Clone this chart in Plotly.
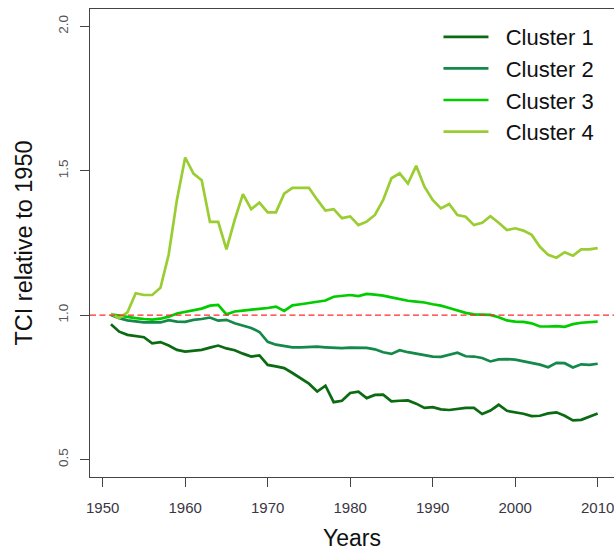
import plotly.graph_objects as go

years = list(range(1951, 2011))

cluster1 = [0.969, 0.943, 0.932, 0.928, 0.924, 0.903, 0.907, 0.895, 0.880, 0.874,
            0.878, 0.880, 0.888, 0.895, 0.885, 0.879, 0.867, 0.857, 0.861, 0.828,
            0.823, 0.817, 0.800, 0.780, 0.763, 0.736, 0.756, 0.699, 0.704, 0.731,
            0.735, 0.713, 0.724, 0.725, 0.702, 0.704, 0.705, 0.694, 0.679, 0.682,
            0.674, 0.672, 0.676, 0.679, 0.679, 0.658, 0.670, 0.690, 0.669, 0.665,
            0.659, 0.651, 0.652, 0.660, 0.664, 0.652, 0.636, 0.638, 0.650, 0.660]

cluster2 = [1.001, 0.990, 0.982, 0.978, 0.975, 0.975, 0.975, 0.983, 0.978, 0.977,
            0.984, 0.987, 0.992, 0.981, 0.984, 0.972, 0.964, 0.956, 0.942, 0.908,
            0.898, 0.893, 0.889, 0.889, 0.890, 0.891, 0.889, 0.887, 0.886, 0.888,
            0.888, 0.887, 0.882, 0.872, 0.866, 0.879, 0.872, 0.867, 0.861, 0.857,
            0.856, 0.862, 0.870, 0.858, 0.857, 0.852, 0.840, 0.847, 0.848, 0.846,
            0.840, 0.835, 0.829, 0.820, 0.835, 0.834, 0.819, 0.830, 0.828, 0.832]

cluster3 = [1.003, 0.998, 0.993, 0.990, 0.987, 0.985, 0.988, 0.995, 1.006, 1.012,
            1.018, 1.023, 1.033, 1.036, 1.003, 1.013, 1.016, 1.020, 1.022, 1.025,
            1.030, 1.015, 1.034, 1.038, 1.042, 1.047, 1.051, 1.064, 1.068, 1.070,
            1.066, 1.074, 1.071, 1.068, 1.062, 1.056, 1.050, 1.047, 1.044, 1.038,
            1.033, 1.025, 1.017, 1.008, 1.003, 1.003, 1.001, 0.993, 0.982, 0.978,
            0.977, 0.972, 0.961, 0.961, 0.962, 0.960, 0.969, 0.974, 0.977, 0.978]

cluster4 = [1.005, 0.990, 1.010, 1.076, 1.070, 1.070, 1.095, 1.210, 1.400, 1.546,
            1.490, 1.467, 1.323, 1.323, 1.228, 1.330, 1.419, 1.367, 1.390, 1.356,
            1.356, 1.421, 1.441, 1.441, 1.441, 1.400, 1.362, 1.367, 1.336, 1.342,
            1.312, 1.324, 1.347, 1.399, 1.474, 1.491, 1.456, 1.517, 1.445, 1.399,
            1.370, 1.385, 1.347, 1.341, 1.312, 1.320, 1.343, 1.320, 1.295, 1.301,
            1.293, 1.278, 1.237, 1.209, 1.199, 1.218, 1.206, 1.228, 1.228, 1.232]

series_names = ["Cluster 1", "Cluster 2", "Cluster 3", "Cluster 4"]
series_colors = ["#0b6b12", "#13894a", "#00cc00", "#9acd32"]
reference_level = 1.0

x_ticks = [1950, 1960, 1970, 1980, 1990, 2000, 2010]
y_ticks = [0.5, 1.0, 1.5, 2.0]

FONT = "Liberation Sans, Arial, sans-serif"
PAD = "\u00a0\u00a0"  # spacing between legend line and label

fig = go.Figure()
for name, vals, col in zip(series_names, [cluster1, cluster2, cluster3, cluster4], series_colors):
    fig.add_trace(go.Scatter(x=years, y=vals, mode="lines", name=PAD + name,
                             line=dict(color=col, width=2.7)))

fig.add_shape(type="line", xref="paper", x0=0, x1=1, yref="y",
              y0=reference_level, y1=reference_level,
              line=dict(color="#ff2a2a", width=1.3, dash="6px,3.5px"))

fig.update_layout(
    width=614, height=551,
    margin=dict(l=90, r=0, t=9, b=74, autoexpand=False),
    paper_bgcolor="white", plot_bgcolor="white",
    font=dict(family=FONT, color="#111"),
    showlegend=True,
    legend=dict(x=0.665, y=0.985, xanchor="left", yanchor="top",
                font=dict(size=22, family=FONT, color="#111"),
                bgcolor="rgba(0,0,0,0)", itemwidth=45, tracegroupgap=0),
    xaxis=dict(range=[1948.46, 2011.98], tickvals=x_ticks, automargin=False,
               showgrid=False, zeroline=False, ticklabeloverflow="allow",
               showline=True, mirror=True, linecolor="#444", linewidth=1.3,
               ticks="outside", ticklen=9, tickwidth=1.3, tickcolor="#444",
               ticklabelstandoff=8,
               tickfont=dict(size=15, family=FONT, color="#3a3644"),
               title=dict(text="Years", font=dict(size=23, family=FONT, color="#111"), standoff=23)),
    yaxis=dict(range=[0.44, 2.06], tickvals=y_ticks, tickformat=".1f", automargin=False,
               showgrid=False, zeroline=False,
               showline=True, mirror=False, linecolor="#444", linewidth=1.3,
               ticks="outside", ticklen=9, tickwidth=1.3, tickcolor="#444",
               tickangle=-90, ticklabelstandoff=6,
               tickfont=dict(size=13.5, family=FONT, color="#555"),
               title=dict(text="TCI relative to 1950", font=dict(size=23.5, family=FONT, color="#111"), standoff=17)),
)

fig.write_html("out.html", config={"displayModeBar": False},
               post_script="document.body.style.margin='0';document.body.style.overflow='hidden';")
